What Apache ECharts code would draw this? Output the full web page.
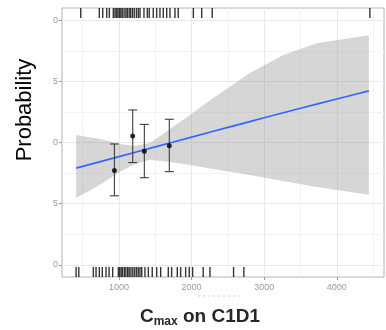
<!DOCTYPE html>
<html>
<head>
<meta charset="utf-8">
<script src="https://cdn.jsdelivr.net/npm/echarts@6/dist/echarts.min.js"></script>
<style>
  html, body { margin: 0; padding: 0; background: #fff; }
  #chart { width: 386px; height: 330px; }
</style>
</head>
<body>
<div id="chart"></div>
<script>
// Fitted logistic curve: probability vs Cmax
const curveX = [410, 1000, 1500, 2000, 2500, 3000, 3500, 4000, 4441];
const curveP = [0.395, 0.442, 0.482, 0.522, 0.562, 0.601, 0.640, 0.678, 0.711];

// 95% confidence band of the fit
const bandX    = [410, 739, 1014, 1221, 1427, 1702, 1977, 2253, 2803, 3257, 3725, 4441];
const bandLow  = [0.273, 0.327, 0.380, 0.412, 0.429, 0.420, 0.408, 0.394, 0.367, 0.343, 0.318, 0.286];
const bandHigh = [0.531, 0.514, 0.494, 0.486, 0.498, 0.555, 0.612, 0.673, 0.784, 0.857, 0.906, 0.939];

// Observed proportion per Cmax bin, with interval
const binX    = [937, 1189, 1349, 1693];
const binP    = [0.385, 0.527, 0.464, 0.487];
const binLow  = [0.282, 0.418, 0.356, 0.381];
const binHigh = [0.494, 0.633, 0.574, 0.595];

// Individual patients: with event (top rug) and without event (bottom rug)
const rugEvent = [473, 729, 776, 831, 867, 922, 945, 965, 985, 1005, 1025, 1045, 1070, 1095,
  1115, 1140, 1160, 1185, 1210, 1240, 1266, 1289, 1344, 1390, 1417, 1472, 1519, 1564, 1610,
  1657, 1702, 1771, 1816, 2024, 2139, 2284, 4455];
const rugNoEvent = [409, 446, 647, 684, 729, 770, 821, 863, 913, 991, 1010, 1030, 1050, 1075,
  1095, 1120, 1140, 1165, 1190, 1215, 1240, 1265, 1289, 1313, 1358, 1404, 1458, 1519, 1574,
  1679, 1725, 1803, 1849, 1918, 1968, 2014, 2160, 2253, 2578, 2720];

// Axis breaks
const xTicks = [1000, 2000, 3000, 4000];
const xMinorTicks = [500, 1500, 2500, 3500, 4500];
const yTicks = [0, 0.25, 0.5, 0.75, 1];
const yMinorTicks = [0.125, 0.375, 0.625, 0.875];

const X_MIN = 215, X_MAX = 4650, Y_MIN = -0.05, Y_MAX = 1.05;
const GRID_MAJOR = '#e8e8e8', GRID_MINOR = '#f3f3f3', TICK_GREY = '#9a9a9a';

const chart = echarts.init(document.getElementById('chart'), null, { renderer: 'canvas' });

function rugItem(side) {
  return function (params, api) {
    const cs = params.coordSys;
    const x = api.coord([api.value(0), 0])[0];
    const len = 10;
    const y0 = side === 'top' ? cs.y : cs.y + cs.height;
    const y1 = side === 'top' ? cs.y + len : cs.y + cs.height - len;
    return {
      type: 'line',
      shape: { x1: x, y1: y0, x2: x, y2: y1 },
      style: { stroke: '#111', lineWidth: 1.4, opacity: 0.85 }
    };
  };
}

const option = {
  animation: false,
  backgroundColor: '#fff',
  grid: {
    left: 62, right: 2, top: 8, bottom: 53,
    show: true, borderColor: '#b3b3b3', borderWidth: 1, backgroundColor: 'transparent'
  },
  xAxis: [
    {
      type: 'value', min: X_MIN, max: X_MAX,
      axisLine: { show: false, onZero: false },
      axisTick: { show: true, customValues: xTicks, length: 3, lineStyle: { color: TICK_GREY } },
      axisLabel: { customValues: xTicks, color: '#9a9a9a', fontSize: 9, margin: 6,
        fontFamily: 'Liberation Sans', formatter: v => String(v) },
      splitLine: { show: true, lineStyle: { color: GRID_MAJOR, width: 1 } }
    },
    {
      type: 'value', min: X_MIN, max: X_MAX, position: 'bottom',
      axisLine: { show: false, onZero: false },
      axisTick: { show: false, customValues: xMinorTicks },
      axisLabel: { show: false },
      splitLine: { show: true, lineStyle: { color: GRID_MINOR, width: 1 } }
    }
  ],
  yAxis: [
    {
      type: 'value', min: Y_MIN, max: Y_MAX,
      axisLine: { show: false, onZero: false },
      axisTick: { show: true, customValues: yTicks, length: 3, lineStyle: { color: TICK_GREY } },
      axisLabel: {
        customValues: yTicks, color: '#9a9a9a', fontSize: 9, margin: 4,
        fontFamily: 'Liberation Sans',
        formatter: v => v.toFixed(2).slice(-1)
      },
      splitLine: { show: true, lineStyle: { color: GRID_MAJOR, width: 1 } }
    },
    {
      type: 'value', min: Y_MIN, max: Y_MAX, position: 'left',
      axisLine: { show: false, onZero: false },
      axisTick: { show: false, customValues: yMinorTicks },
      axisLabel: { show: false },
      splitLine: { show: true, lineStyle: { color: GRID_MINOR, width: 1 } }
    }
  ],
  series: [
    {
      name: 'band', type: 'custom', z: 2,
      data: bandX.map((x, i) => [x, bandLow[i], bandHigh[i]]),
      encode: { x: 0, y: [1, 2] },
      renderItem: function (params, api) {
        if (params.dataIndex !== 0) return null;
        const upper = bandX.map((x, i) => api.coord([x, bandHigh[i]]));
        const lower = bandX.map((x, i) => api.coord([x, bandLow[i]])).reverse();
        return {
          type: 'polygon',
          shape: { points: upper.concat(lower) },
          style: { fill: 'rgba(153,153,153,0.4)' }
        };
      }
    },
    {
      name: 'fit', type: 'line', z: 3,
      data: curveX.map((x, i) => [x, curveP[i]]),
      showSymbol: false, smooth: 0.3,
      lineStyle: { color: '#3366FF', width: 1.7 }
    },
    {
      name: 'errorbars', type: 'custom', z: 4,
      data: binX.map((x, i) => [x, binLow[i], binHigh[i]]),
      encode: { x: 0, y: [1, 2] },
      renderItem: function (params, api) {
        const lo = api.coord([api.value(0), api.value(1)]);
        const hi = api.coord([api.value(0), api.value(2)]);
        const hw = 4.5;
        const st = { stroke: '#3d3d3d', lineWidth: 1.1 };
        return {
          type: 'group',
          children: [
            { type: 'line', shape: { x1: lo[0], y1: lo[1], x2: hi[0], y2: hi[1] }, style: st },
            { type: 'line', shape: { x1: lo[0] - hw, y1: lo[1], x2: lo[0] + hw, y2: lo[1] }, style: st },
            { type: 'line', shape: { x1: hi[0] - hw, y1: hi[1], x2: hi[0] + hw, y2: hi[1] }, style: st }
          ]
        };
      }
    },
    {
      name: 'observed', type: 'scatter', z: 5,
      data: binX.map((x, i) => [x, binP[i]]),
      symbolSize: 5,
      itemStyle: { color: '#000' }
    },
    {
      name: 'rugEvent', type: 'custom', z: 6,
      data: rugEvent.map(v => [v]),
      encode: { x: 0 },
      renderItem: rugItem('top')
    },
    {
      name: 'rugNoEvent', type: 'custom', z: 6,
      data: rugNoEvent.map(v => [v]),
      encode: { x: 0 },
      renderItem: rugItem('bottom')
    }
  ],
  graphic: [
    {
      type: 'text', x: 25, y: 110, rotation: Math.PI / 2,
      style: {
        text: 'Probability', fill: '#000',
        font: '22px "Liberation Sans", Arial, sans-serif',
        align: 'center', verticalAlign: 'middle'
      }
    },
    {
      type: 'line', shape: { x1: 198, y1: 296, x2: 243, y2: 296 },
      style: { stroke: '#d0d0d0', lineWidth: 1, lineDash: [2, 3] }
    },
    {
      type: 'text', x: 200, y: 317,
      style: {
        text: '{c|C}{s|max}{t| on C1D1}',
        align: 'center', verticalAlign: 'middle',
        rich: {
          c: { fontSize: 19, fontWeight: 'bold', fontFamily: 'Liberation Sans', fill: '#262626', color: '#262626' },
          s: { fontSize: 12, fontWeight: 'bold', fontFamily: 'Liberation Sans', fill: '#262626', color: '#262626', padding: [10, 0, 0, 0] },
          t: { fontSize: 19, fontWeight: 'bold', fontFamily: 'Liberation Sans', fill: '#262626', color: '#262626' }
        }
      }
    }
  ]
};

chart.setOption(option);
</script>
</body>
</html>
